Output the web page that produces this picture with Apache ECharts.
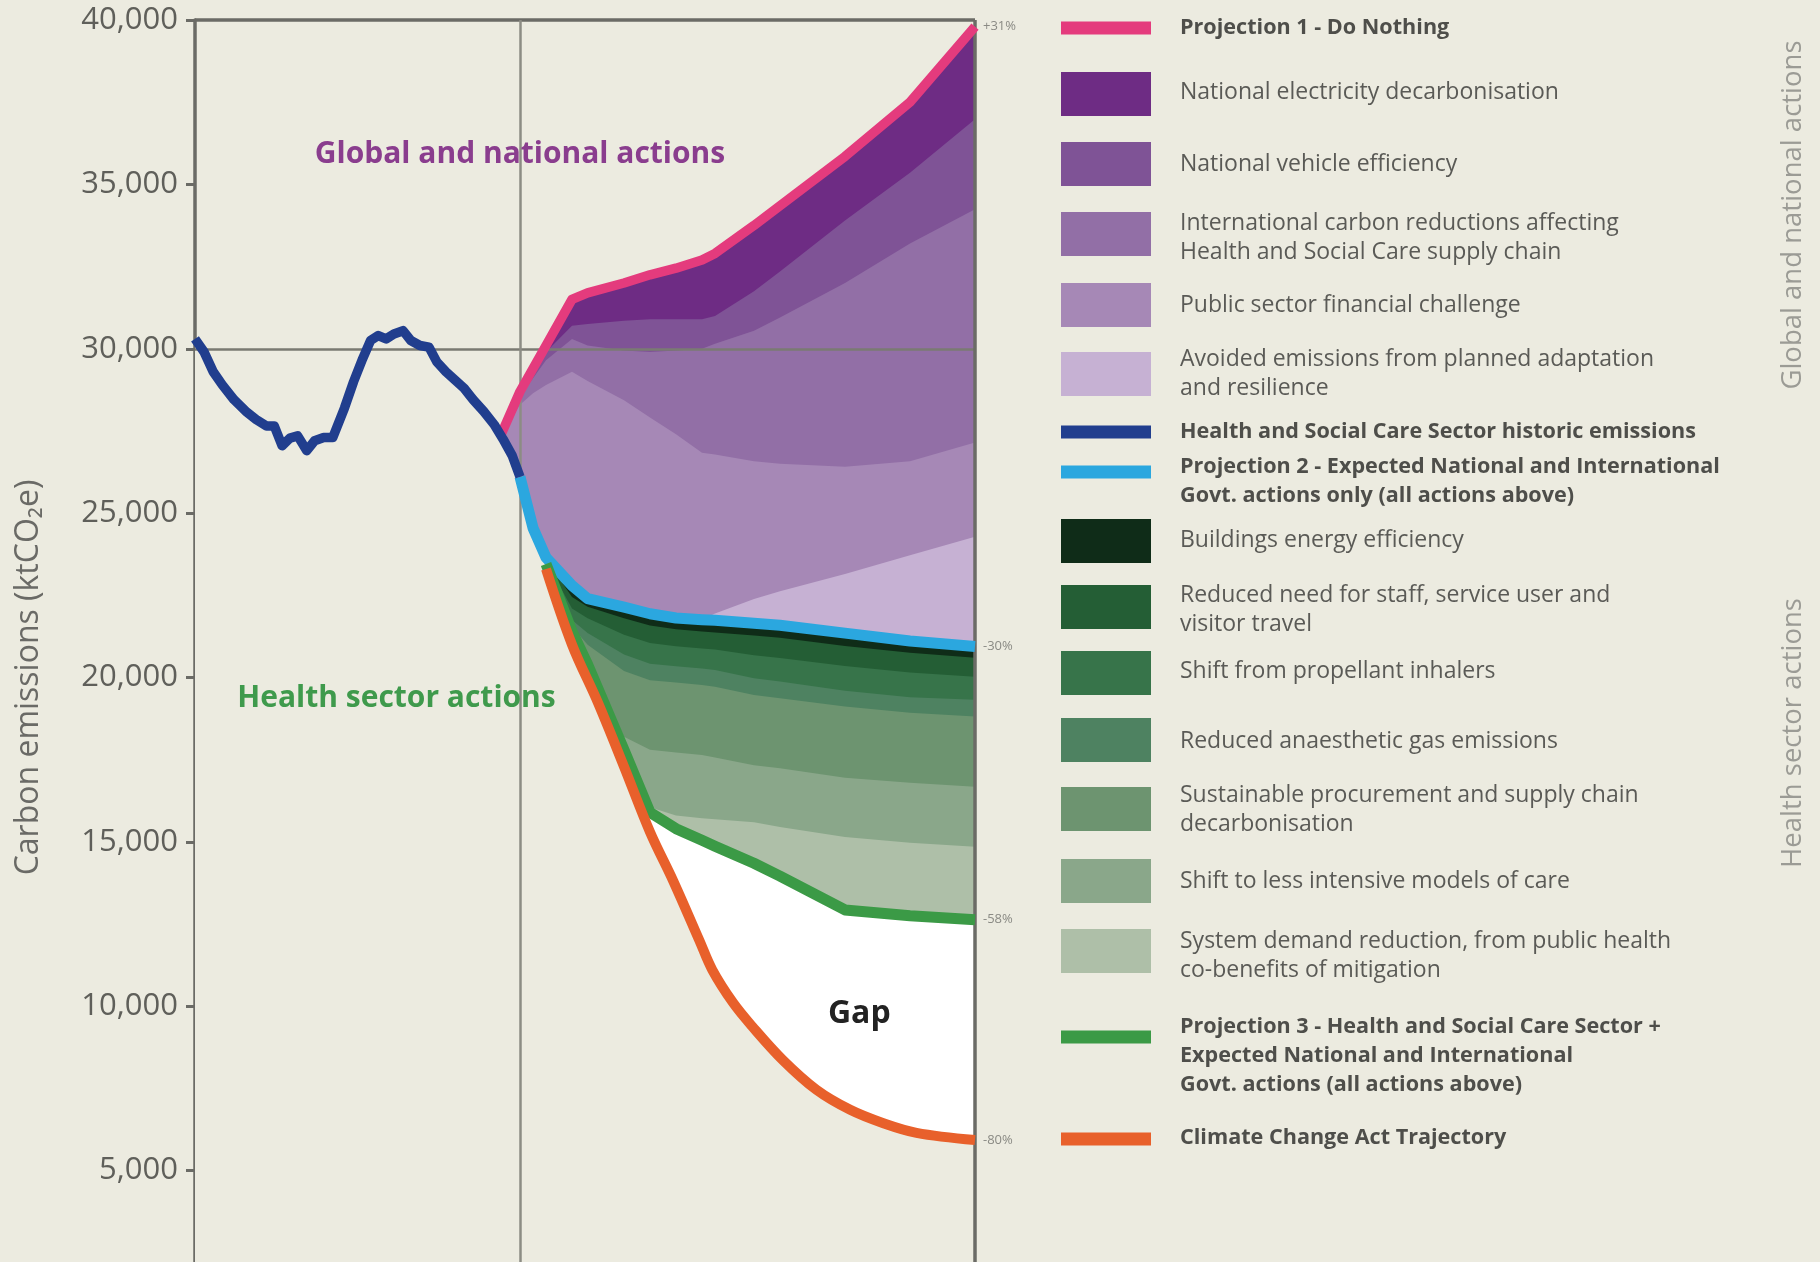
<!DOCTYPE html>
<html><head><meta charset="utf-8">
<script src="https://cdn.jsdelivr.net/npm/echarts@6/dist/echarts.min.js"></script>
<style>html,body{margin:0;padding:0;background:#ecebe0;}#c{width:1820px;height:1262px;}</style>
</head><body><div id="c"></div>
<script>
// ---------- DATA ----------
const histYears  = [1990.0,1990.7,1991.4,1992.1,1993.0,1993.9,1994.7,1995.5,1996.1,1996.7,1997.3,1997.9,1998.6,1999.2,1999.9,2000.6,2001.5,2002.2,2002.9,2003.5,2004.1,2004.7,2005.3,2006.0,2006.6,2007.3,2008.0,2008.6,2009.3,2010.0,2010.7,2011.4,2012.2,2013.0,2013.7,2014.4,2015.0];
const histValues = [30300,29900,29300,28900,28450,28100,27850,27650,27650,27050,27280,27350,26900,27200,27300,27300,28200,29000,29700,30250,30400,30300,30450,30550,30250,30100,30050,29600,29300,29050,28800,28450,28100,27700,27250,26750,26100];

// Global and national actions (upper edges of each band)
const projYears         = [2013.5,2015,2016,2017,2019,2020.2,2023,2025,2027,2029,2030,2033,2035,2040,2045,2050];
const doNothing         = [27350,28700,29400,30100,31500,31700,32000,32250,32450,32700,32900,33750,34350,35850,37500,39800];
const electricityBottom = [27350,28650,29300,29900,30700,30750,30850,30900,30900,30900,31000,31750,32350,33900,35350,36980];
const vehicleBottom     = [27350,28550,29100,29650,30300,30100,29950,29900,29950,30000,30150,30550,30950,32000,33200,34240];
const intlBottom        = [27350,28300,28650,28900,29300,29020,28430,27910,27400,26840,26780,26580,26500,26410,26580,27150];
const publicBottom      = [27350,26100,24550,23650,22800,22400,22140,21940,21810,21760,21950,22390,22620,23150,23720,24280];
const projection2       = [27350,26100,24550,23650,22800,22400,22140,21940,21810,21760,21740,21650,21590,21350,21110,20940];

// Health sector actions (lower edges of each band)
const greenYears        = [2017,2019,2020.2,2023,2025,2027,2029,2030,2033,2035,2040,2045,2050];
const buildingsBottom   = [23600,22450,22150,21800,21580,21470,21400,21370,21280,21210,20960,20750,20600];
const travelBottom      = [23550,22100,21800,21300,21050,20950,20880,20850,20680,20590,20350,20150,20020];
const inhalersBottom    = [23500,21750,21350,20700,20420,20340,20270,20230,19980,19880,19600,19400,19320];
const anaesBottom       = [23480,21550,21000,20200,19920,19850,19770,19720,19470,19370,19120,18930,18810];
const sustainBottom     = [23460,21450,20600,18200,17800,17720,17640,17570,17330,17240,16950,16800,16680];
const shiftBottom       = [23450,21400,20450,17850,16050,15800,15720,15690,15600,15450,15150,14970,14850];
const projection3       = [23450,21400,20400,17800,15900,15400,15050,14870,14350,13960,12930,12750,12630];

// Climate Change Act trajectory
const ccaYears  = [2017,2019,2021,2023,2025,2026.8,2028.8,2029.8,2031.4,2032.9,2035.2,2037.8,2040.4,2042.9,2045.5,2050];
const ccaValues = [23300,21000,19230,17290,15300,13800,12000,11100,10100,9370,8370,7460,6850,6450,6150,5930];

const endLabels = {p1:'+31%', p2:'-30%', p3:'-58%', cca:'-80%'};

// ---------- STYLE ----------
const FONT = "'Open Sans','Noto Sans',sans-serif";
const COL = {
  bg:'#ecebe0', pink:'#e43b7d', elec:'#6e2c84', vehicle:'#7f5396', intl:'#926fa6', publicFin:'#a688b6', avoided:'#c6b1d3',
  hist:'#213e8e', proj2:'#2ba7df', buildings:'#0f2c18', travel:'#245e35', inhalers:'#37744a', anaes:'#4e8261',
  sustain:'#6d9470', shift:'#8aa78a', demand:'#aebfa8', proj3:'#3b9a46', cca:'#e8602b', white:'#ffffff', axis:'#6b6b66'
};

const pairs = (xs, ys) => xs.map((x, i) => [x, ys[i]]);

function areaSeries(name, data, color, smooth) {
  return {
    type:'line', name, data, symbol:'none', showSymbol:false, smooth: smooth || 0,
    lineStyle:{width:0, opacity:0}, itemStyle:{color},
    areaStyle:{color, opacity:1, origin:'start'}, z:2, silent:true
  };
}
function lineSeries(name, data, color, width, endText, smooth) {
  const s = {
    type:'line', name, data, symbol:'none', showSymbol:false, smooth: smooth || 0,
    lineStyle:{width, color, cap:'butt', join:'round'}, itemStyle:{color}, z:6, silent:true
  };
  if (endText) s.endLabel = {show:true, formatter:endText, color:'#8a8a84', fontSize:13, fontFamily:FONT, distance:8};
  return s;
}

// masks built from the arrays (background colour fills)
const mask1 = pairs(histYears.filter(y => y < projYears[0]), histValues.filter((v, i) => histYears[i] < projYears[0]))
  .concat(pairs(projYears, projection2));
const mask2 = pairs(projYears.filter(y => y < ccaYears[0]), projection2.filter((v, i) => projYears[i] < ccaYears[0]))
  .concat(pairs(ccaYears, ccaValues));
const proj2Top = projection2.slice(projYears.indexOf(greenYears[0]));

const CCA_SMOOTH = 0.35;

const series = [
  areaSeries('National electricity decarbonisation', pairs(projYears, doNothing), COL.elec),
  areaSeries('National vehicle efficiency', pairs(projYears, electricityBottom), COL.vehicle),
  areaSeries('International carbon reductions affecting Health and Social Care supply chain', pairs(projYears, vehicleBottom), COL.intl),
  areaSeries('Public sector financial challenge', pairs(projYears, intlBottom), COL.publicFin),
  areaSeries('Avoided emissions from planned adaptation and resilience', pairs(projYears, publicBottom), COL.avoided),
  Object.assign(areaSeries('mask-upper', mask1, COL.bg), {
    markLine:{
      silent:true, symbol:'none', animation:false, label:{show:false}, z:4,
      data:[
        {yAxis:40000, lineStyle:{color:COL.axis, width:3.5, type:'solid'}},
        {yAxis:30000, lineStyle:{color:'#7a7a72', width:2.5, type:'solid'}},
        {xAxis:2015, lineStyle:{color:'#8c8c84', width:2.5, type:'solid'}},
        {xAxis:2050, lineStyle:{color:COL.axis, width:3.5, type:'solid'}}
      ]
    }
  }),
  areaSeries('Buildings energy efficiency', pairs(greenYears, proj2Top), COL.buildings),
  areaSeries('Reduced need for staff, service user and visitor travel', pairs(greenYears, buildingsBottom), COL.travel),
  areaSeries('Shift from propellant inhalers', pairs(greenYears, travelBottom), COL.inhalers),
  areaSeries('Reduced anaesthetic gas emissions', pairs(greenYears, inhalersBottom), COL.anaes),
  areaSeries('Sustainable procurement and supply chain decarbonisation', pairs(greenYears, anaesBottom), COL.sustain),
  areaSeries('Shift to less intensive models of care', pairs(greenYears, sustainBottom), COL.shift),
  areaSeries('System demand reduction, from public health co-benefits of mitigation', pairs(greenYears, shiftBottom), COL.demand),
  areaSeries('Gap', pairs(greenYears, projection3), COL.white),
  areaSeries('mask-lower', mask2, COL.bg, CCA_SMOOTH),
  lineSeries('Projection 1 - Do Nothing', pairs(projYears, doNothing), COL.pink, 9.5, endLabels.p1),
  lineSeries('Projection 2 - Expected National and International Govt. actions only (all actions above)', pairs(projYears.slice(1), projection2.slice(1)), COL.proj2, 11, endLabels.p2),
  lineSeries('Projection 3 - Health and Social Care Sector + Expected National and International Govt. actions (all actions above)', pairs(greenYears, projection3), COL.proj3, 11, endLabels.p3),
  lineSeries('Climate Change Act Trajectory', pairs(ccaYears, ccaValues), COL.cca, 10, endLabels.cca, CCA_SMOOTH),
  lineSeries('Health and Social Care Sector historic emissions', pairs(histYears, histValues), COL.hist, 9.5)
];

const chart = echarts.init(document.getElementById('c'), null, {renderer:'canvas', width:1820, height:1262});
chart.setOption({
  backgroundColor: COL.bg,
  animation:false,
  textStyle:{fontFamily:FONT},
  grid:{left:195, top:20, width:780, height:1315, containLabel:false, outerBoundsMode:'none'},
  xAxis:{type:'value', min:1990, max:2050, show:false},
  yAxis:{
    type:'value', min:0, max:40000, interval:5000,
    axisLine:{show:true, lineStyle:{color:COL.axis, width:3.5}},
    axisTick:{show:true, length:9, lineStyle:{color:COL.axis, width:3}},
    axisLabel:{color:'#5f5f5a', fontSize:31, fontFamily:FONT, margin:17, showMinLabel:false, formatter:v => v.toLocaleString('en-US')},
    splitLine:{show:false},
    name:'Carbon emissions (ktCO\u2082e)', nameLocation:'middle', nameGap:150,
    nameTextStyle:{color:'#6a6a66', fontSize:32, fontFamily:FONT}
  },
  series
});

// ---------- annotations & legend ----------
const toPx = (x, y) => chart.convertToPixel({gridIndex:0}, [x, y]);
const annotations = [
  {text:'Global and national actions', at:[2015, 35900], color:'#8a3d8e', size:30},
  {text:'Health sector actions', at:[2005.5, 19350], color:'#3f9a4c', size:30},
  {text:'Gap', at:[2041.1, 9760], color:'#222222', size:32}
];
const legendRows = [
  {kind:'line', color:COL.pink, bold:true, sy:28, ty:28, lines:['Projection 1 - Do Nothing']},
  {kind:'box', color:COL.elec, sy:94, ty:92, lines:['National electricity decarbonisation']},
  {kind:'box', color:COL.vehicle, sy:164, ty:164, lines:['National vehicle efficiency']},
  {kind:'box', color:COL.intl, sy:234, ty:223, lines:['International carbon reductions affecting','Health and Social Care supply chain']},
  {kind:'box', color:COL.publicFin, sy:305, ty:305, lines:['Public sector financial challenge']},
  {kind:'box', color:COL.avoided, sy:374, ty:359, lines:['Avoided emissions from planned adaptation','and resilience']},
  {kind:'line', color:COL.hist, bold:true, sy:432, ty:432, lines:['Health and Social Care Sector historic emissions']},
  {kind:'line', color:COL.proj2, bold:true, sy:472, ty:467, lines:['Projection 2 - Expected National and International','Govt. actions only (all actions above)']},
  {kind:'box', color:COL.buildings, sy:541, ty:540, lines:['Buildings energy efficiency']},
  {kind:'box', color:COL.travel, sy:607, ty:595, lines:['Reduced need for staff, service user and','visitor travel']},
  {kind:'box', color:COL.inhalers, sy:673, ty:671, lines:['Shift from propellant inhalers']},
  {kind:'box', color:COL.anaes, sy:740, ty:741, lines:['Reduced anaesthetic gas emissions']},
  {kind:'box', color:COL.sustain, sy:809, ty:795, lines:['Sustainable procurement and supply chain','decarbonisation']},
  {kind:'box', color:COL.shift, sy:881, ty:881, lines:['Shift to less intensive models of care']},
  {kind:'box', color:COL.demand, sy:951, ty:941, lines:['System demand reduction, from public health','co-benefits of mitigation']},
  {kind:'line', color:COL.proj3, bold:true, sy:1037, ty:1027, lines:['Projection 3 - Health and Social Care Sector +','Expected National and International','Govt. actions (all actions above)']},
  {kind:'line', color:COL.cca, bold:true, sy:1139, ty:1138, lines:['Climate Change Act Trajectory']}
];
const LH = 29;
const g = [];
annotations.forEach(a => {
  const p = toPx(a.at[0], a.at[1]);
  g.push({type:'text', x:p[0], y:p[1], z:100, style:{text:a.text, fill:a.color, fontSize:a.size, fontWeight:'bold', fontFamily:FONT, align:'center', verticalAlign:'middle'}});
});
legendRows.forEach(r => {
  const h = r.kind === 'box' ? 44 : 13;
  g.push({type:'rect', z:100, shape:{x:1061, y:r.sy - h / 2, width:90, height:h}, style:{fill:r.color}});
  g.push({type:'text', z:100, x:1180, y:r.ty - LH / 2, style:{text:r.lines.join('\n'), fill:r.bold ? '#4e4e4a' : '#5a5a56', fontSize:r.bold ? 21.6 : 23, fontWeight:r.bold ? 'bold' : 'normal', fontFamily:FONT, lineHeight:LH, align:'left', verticalAlign:'top'}});
});
g.push({type:'text', z:100, x:1793, y:215, rotation:Math.PI / 2, style:{text:'Global and national actions', fill:'#9b9b95', fontSize:27.5, fontFamily:FONT, align:'center', verticalAlign:'middle'}});
g.push({type:'text', z:100, x:1793, y:733, rotation:Math.PI / 2, style:{text:'Health sector actions', fill:'#9b9b95', fontSize:27.5, fontFamily:FONT, align:'center', verticalAlign:'middle'}});
chart.setOption({graphic:g});
</script>
</body></html>
